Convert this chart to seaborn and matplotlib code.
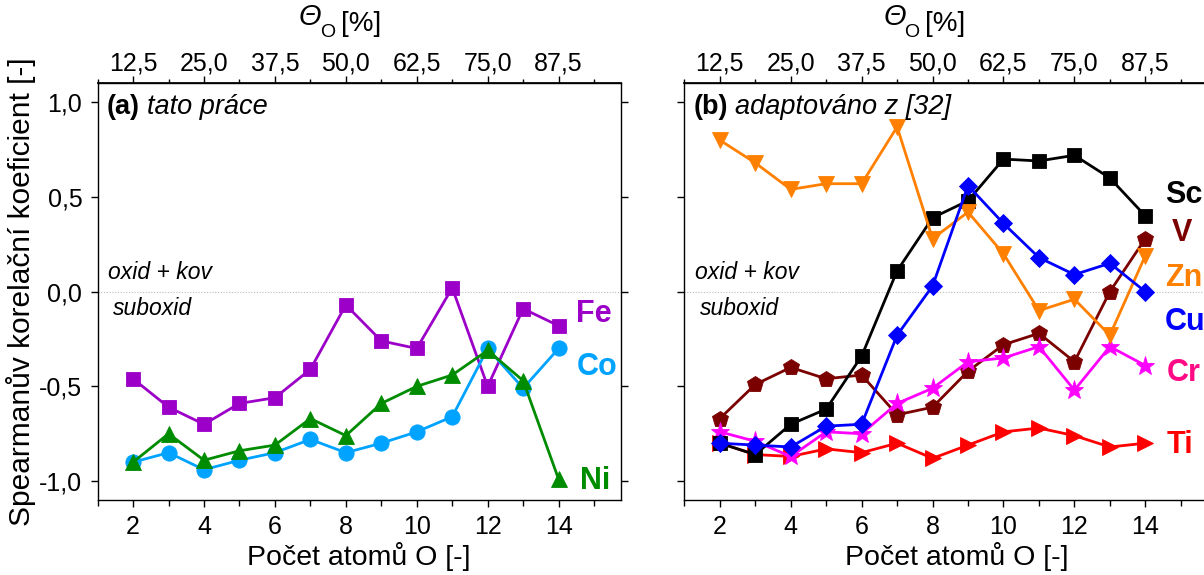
import matplotlib
matplotlib.use("Agg")
import matplotlib.pyplot as plt
from matplotlib.ticker import FuncFormatter, MultipleLocator, FixedLocator
import seaborn as sns
import pandas as pd

# number of O atoms in the cluster
n_oxygen = [2, 3, 4, 5, 6, 7, 8, 9, 10, 11, 12, 13, 14]

# (a) this work
fe = [-0.46, -0.61, -0.70, -0.59, -0.56, -0.41, -0.07, -0.26, -0.30, 0.02, -0.50, -0.09, -0.18]
co = [-0.90, -0.85, -0.94, -0.89, -0.85, -0.78, -0.85, -0.80, -0.74, -0.66, -0.30, -0.51, -0.30]
ni = [-0.90, -0.75, -0.89, -0.84, -0.81, -0.67, -0.76, -0.59, -0.50, -0.44, -0.31, -0.47, -0.99]

# (b) adapted from [32]
ti = [-0.80, -0.86, -0.87, -0.83, -0.85, -0.80, -0.88, -0.81, -0.74, -0.72, -0.76, -0.82, -0.80]
v = [-0.67, -0.49, -0.40, -0.46, -0.44, -0.65, -0.61, -0.42, -0.28, -0.22, -0.37, 0.00, 0.28]
cr = [-0.74, -0.79, -0.87, -0.74, -0.75, -0.59, -0.51, -0.37, -0.35, -0.29, -0.52, -0.29, -0.39]
sc = [-0.80, -0.86, -0.70, -0.62, -0.34, 0.11, 0.39, 0.48, 0.70, 0.69, 0.72, 0.60, 0.40]
zn = [0.80, 0.68, 0.54, 0.57, 0.57, 0.87, 0.28, 0.42, 0.20, -0.10, -0.04, -0.23, 0.19]
cu = [-0.80, -0.81, -0.82, -0.71, -0.70, -0.23, 0.03, 0.56, 0.36, 0.18, 0.09, 0.15, 0.00]

y_ticks = [-1.0, -0.5, 0.0, 0.5, 1.0]
top_ticks = [12.5, 25.0, 37.5, 50.0, 62.5, 75.0, 87.5]

sns.set_theme(style="ticks")
plt.rcParams.update({
    "font.family": ["Liberation Sans", "DejaVu Sans"],
    "text.color": "black",
    "axes.labelcolor": "black",
    "xtick.color": "black",
    "ytick.color": "black",
    "axes.edgecolor": "black",
})

fig = plt.figure(figsize=(12.04, 5.75), dpi=100)
ax_a = fig.add_axes([0.0811, 0.1304, 0.4344, 0.7247])
ax_b = fig.add_axes([0.5684, 0.1304, 0.4344, 0.7247])

# name, values, line colour, marker, marker size, label colour, label x, label y
left_series = [
    ("Fe", fe, "#9C00C8", "s", 10.5, "#9C00C8", 14.5, -0.12),
    ("Co", co, "#00A3FF", "o", 11, "#00A3FF", 14.5, -0.40),
    ("Ni", ni, "#008C00", "^", 11, "#008C00", 14.6, -1.00),
]
right_series = [
    ("Ti", ti, "#FF0000", ">", 12, "#FF0000", 14.6, -0.81),
    ("V", v, "#7B0000", "p", 12, "#7B0000", 14.75, 0.31),
    ("Cr", cr, "#FF00FF", "*", 14, "#FF0A84", 14.6, -0.43),
    ("Sc", sc, "#000000", "s", 9.5, "#000000", 14.55, 0.51),
    ("Zn", zn, "#FF8000", "v", 12, "#FF8000", 14.55, 0.07),
    ("Cu", cu, "#0000FF", "D", 9.5, "#0000FF", 14.55, -0.16),
]


def comma(v, pos=None):
    s = f"{v:.1f}".replace(".", ",")
    return "0,0" if s == "-0,0" else s


def draw_panel(ax, series, tag, note, theta_x):
    for name, vals, col, mk, ms, lab_col, lx, ly in series:
        df = pd.DataFrame({"n": n_oxygen, "r": vals})
        sns.lineplot(data=df, x="n", y="r", ax=ax, color=col, marker=mk,
                     markersize=ms, linewidth=2.0, markeredgecolor=col,
                     markeredgewidth=0.6, legend=False)
        ax.text(lx, ly, name, color=lab_col, fontsize=22, fontweight="bold",
                ha="left", va="center")

    ax.axhline(0.0, color="#BBBBBB", linewidth=0.8, linestyle=(0, (1, 1.5)), zorder=0)
    ax.text(1.3, 0.10, "oxid + kov", fontsize=16.5, style="italic",
            ha="left", va="center")
    ax.text(1.43, -0.09, "suboxid", fontsize=16.5, style="italic",
            ha="left", va="center")

    t1 = ax.text(0.018, 0.942, tag, transform=ax.transAxes, fontsize=19.5,
                 fontweight="bold", ha="left", va="center")
    ax.annotate(note, xy=(1, 0.5), xycoords=t1, xytext=(5, 0),
                textcoords="offset points", fontsize=19.5, style="italic",
                ha="left", va="center")

    ax.set_xlim(1, 15.75)
    ax.set_ylim(-1.1, 1.1)
    ax.xaxis.set_major_locator(MultipleLocator(2))
    ax.xaxis.set_minor_locator(MultipleLocator(1))
    ax.yaxis.set_major_locator(FixedLocator(y_ticks))
    ax.yaxis.set_major_formatter(FuncFormatter(comma))
    ax.tick_params(axis="both", which="both", direction="out", width=1.0,
                   color="black", labelcolor="black", labelsize=18)
    ax.tick_params(axis="x", which="major", length=5, pad=6)
    ax.tick_params(axis="x", which="minor", length=4.5)
    ax.tick_params(axis="y", which="major", length=5, right=True, pad=6)
    for sp in ax.spines.values():
        sp.set_visible(True)
        sp.set_linewidth(1.0)
        sp.set_color("black")

    ax.set_xlabel("Počet atomů O [-]", fontsize=20.5)
    ax.set_ylabel("")

    top = ax.secondary_xaxis("top", functions=(lambda n: n * 6.25, lambda t: t / 6.25))
    top.xaxis.set_major_locator(FixedLocator(top_ticks))
    top.xaxis.set_minor_locator(MultipleLocator(6.25))
    top.xaxis.set_major_formatter(FuncFormatter(comma))
    top.tick_params(which="major", direction="out", length=5, width=1.0,
                    labelsize=18, pad=0.5, colors="black")
    top.tick_params(which="minor", direction="out", length=3, width=1.0, colors="black")

    # top axis title: italic Theta with subscript O, then the unit
    th = ax.text(theta_x, 1.14, "Θ", transform=ax.transAxes, fontsize=21,
                 style="italic", ha="left", va="baseline")
    ax.annotate("O", xy=(1, 0), xycoords=th, xytext=(-1, -4),
                textcoords="offset points", fontsize=14,
                ha="left", va="baseline")
    ax.annotate("[%]", xy=(1, 0), xycoords=th, xytext=(14, 0),
                textcoords="offset points", fontsize=20,
                ha="left", va="baseline")
    return top


top_a = draw_panel(ax_a, left_series, "(a)", "tato práce", 0.385)
top_b = draw_panel(ax_b, right_series, "(b)", "adaptováno z [32]", 0.38)

ax_b.tick_params(axis="y", labelleft=False)
ax_a.set_ylabel("Spearmanův korelační koeficient [-]", fontsize=21.5)
ax_a.yaxis.set_label_coords(-0.118, 0.5)
ax_a.xaxis.set_label_coords(0.5, -0.1)
ax_b.xaxis.set_label_coords(0.521, -0.1)

fig.savefig("out.png", dpi=100)
